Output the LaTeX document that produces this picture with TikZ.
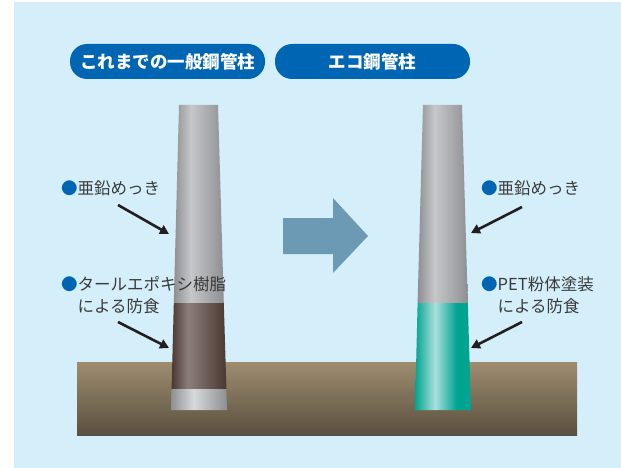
\documentclass[tikz,border=0pt]{standalone}
\usepackage{fontspec}
\setmainfont{Noto Sans CJK JP}
\usetikzlibrary{arrows.meta}
\definecolor{sky}{HTML}{D4EEFA}
\definecolor{ttlblue}{HTML}{0066B3}
\definecolor{bigarrow}{HTML}{6C9AB5}
\definecolor{txtgray}{HTML}{3A3A3A}
\definecolor{ink}{HTML}{231F20}
\definecolor{soiltop}{HTML}{9E8D6E}
\definecolor{soilbot}{HTML}{5A5040}
\definecolor{zincd}{HTML}{8D8F92}
\definecolor{zincl}{HTML}{C6C7C9}
\definecolor{zincb}{HTML}{D8D9DB}
\definecolor{tard}{HTML}{4A3731}
\definecolor{tarl}{HTML}{8C7F7A}
\definecolor{petd}{HTML}{00A490}
\definecolor{petl}{HTML}{AADFDD}
\pgfdeclarehorizontalshading{zinc}{100bp}{color(0bp)=(zincd); color(25bp)=(zincd); color(42bp)=(zincl); color(75bp)=(zincd); color(100bp)=(zincd)}
\pgfdeclarehorizontalshading{zincband}{100bp}{color(0bp)=(zincd); color(25bp)=(zincd); color(45bp)=(zincb); color(75bp)=(zincd); color(100bp)=(zincd)}
\pgfdeclarehorizontalshading{tarcoat}{100bp}{color(0bp)=(tard); color(25bp)=(tard); color(40bp)=(tarl); color(75bp)=(tard); color(100bp)=(tard)}
\pgfdeclarehorizontalshading{petcoat}{100bp}{color(0bp)=(petd); color(25bp)=(petd); color(43bp)=(petl); color(62bp)=(petd); color(75bp)=(petd); color(100bp)=(petd)}
\tikzset{
  ttl/.style={fill=ttlblue,text=white,rounded corners=17pt,minimum width=195pt,minimum height=35pt,inner sep=0pt,font=\bfseries\fontsize{17.5}{20}\selectfont},
  lbl/.style={anchor=west,inner sep=0pt,align=left,text=txtgray,font=\fontsize{16.5}{22}\selectfont},
  ptr/.style={draw=ink,line width=2.6pt,-{Triangle[length=9pt,width=9.5pt]}}
}
\newcommand{\bmark}{\textcolor{ttlblue}{●}}
\begin{document}
\begin{tikzpicture}[x=1pt,y=-1pt]
\pgfmathsetmacro{\ptop}{105}
\pgfmathsetmacro{\pmid}{303}
\pgfmathsetmacro{\pbot}{410}
\useasboundingbox (0,0) rectangle (621,468);
\fill[white] (0,0) rectangle (621,468);
\fill[sky] (14,2) rectangle (621,468);
\shade[top color=soiltop,bottom color=soilbot] (77,362) rectangle (577,435);
\node[ttl] (ttlold) at (167.5,61.5) {これまでの一般鋼管柱};
\node[ttl] (ttleco) at (372.5,61.5) {エコ鋼管柱};
\shade[shading=zinc] (179,\ptop) -- (218,\ptop) -- (223.8,\pmid) -- (173.8,\pmid) -- cycle;
\shade[shading=tarcoat] (173.8,\pmid) -- (223.8,\pmid) -- (226.4,389) -- (171.6,389) -- cycle;
\shade[shading=zincband] (171.6,389) -- (226.4,389) -- (227,\pbot) -- (171,\pbot) -- cycle;
\shade[shading=zinc] (423,\ptop) -- (462,\ptop) -- (467.8,\pmid) -- (417.6,\pmid) -- cycle;
\shade[shading=petcoat] (417.6,\pmid) -- (467.8,\pmid) -- (471,\pbot) -- (415,\pbot) -- cycle;
\fill[bigarrow] (283,218) -- (333,218) -- (333,198) -- (368,236) -- (333,273) -- (333,254) -- (283,254) -- cycle;
\node[lbl] (zincold) at (61,188) {\bmark 亜鉛めっき};
\node[lbl] (tarold) at (61,295) {\bmark タールエポキシ樹脂\\\phantom{●}による防食};
\node[lbl] (zinceco) at (481,188) {\bmark 亜鉛めっき};
\node[lbl] (peteco) at (481,295) {\bmark PET粉体塗装\\\phantom{●}による防食};
\coordinate (a1) at (118,205);
\coordinate (a1e) at (169,234);
\coordinate (a2) at (118,322);
\coordinate (a2e) at (169,348);
\coordinate (b1) at (522,207);
\coordinate (b1e) at (471,233);
\coordinate (b2) at (522,322);
\coordinate (b2e) at (471,348);
\draw[ptr] (a1) -- (a1e);
\draw[ptr] (a2) -- (a2e);
\draw[ptr] (b1) -- (b1e);
\draw[ptr] (b2) -- (b2e);
\end{tikzpicture}
\end{document}
